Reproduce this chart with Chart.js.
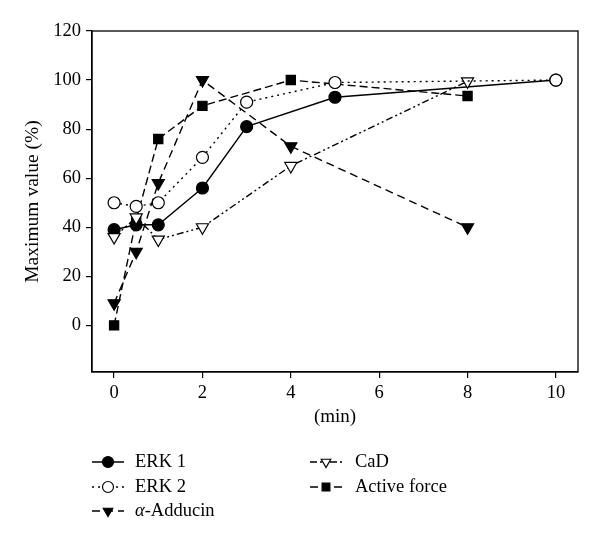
<!DOCTYPE html>
<html>
<head>
<meta charset="utf-8">
<script src="https://cdn.jsdelivr.net/npm/chart.js@4/dist/chart.umd.min.js"></script>
<style>
  html, body { margin: 0; padding: 0; background: #fff; }
  #wrap { width: 600px; height: 543px; }
</style>
</head>
<body>
<div id="wrap"><canvas id="chart"></canvas></div>
<script>
// Data
const timeLong = [0, 0.5, 1, 2, 3, 5, 10];
const timeShort = [0, 0.5, 1, 2, 4, 8];
const erk1 = [39, 41, 41, 56, 81, 93, 100];
const erk2 = [50, 48.5, 50, 68.5, 91, 99, 100];
const adducin = [9, 30, 58, 100, 73, 40];
const cad = [36, 44, 35, 40, 65, 99.5];
const activeForce = [0, 43, 76, 89.5, 100, 93.5];
const xTicks = [0, 2, 4, 6, 8, 10];
const yTicks = [0, 20, 40, 60, 80, 100, 120];

const FONT = "'Liberation Serif', 'DejaVu Serif', serif";

function toPoints(xs, ys) {
  return xs.map((x, i) => ({ x: x, y: ys[i] }));
}

function series(label, xs, ys, opts) {
  return Object.assign({
    label: label,
    data: toPoints(xs, ys),
    borderColor: "#000",
    borderWidth: 1.4,
    pointBorderColor: "#000",
    pointBorderWidth: 1.2,
    pointRadius: 6,
    pointHoverRadius: 6,
    fill: false,
    tension: 0,
  }, opts);
}

const datasets = [
  series("ERK 1", timeLong, erk1, { pointStyle: "circle", pointBackgroundColor: "#000", borderDash: [], order: 3 }),
  series("ERK 2", timeLong, erk2, { pointStyle: "circle", pointBackgroundColor: "#fff", borderDash: [2, 4], order: 1 }),
  series("\u03b1-Adducin", timeShort, adducin, { pointStyle: "triangle", pointRotation: 180, pointBackgroundColor: "#000", borderDash: [8, 5], order: 4, pointRadius: 7 }),
  series("CaD", timeShort, cad, { pointStyle: "triangle", pointRotation: 180, pointBackgroundColor: "#fff", borderDash: [7, 3, 2, 3, 2, 3], order: 2, pointRadius: 7 }),
  series("Active force", timeShort, activeForce, { pointStyle: "rect", pointBackgroundColor: "#000", borderDash: [8, 4], order: 5, pointRadius: 6.5 }),
];

// legend layout: column-major, two columns
const legendCols = [[0, 1, 2], [3, 4]];

const framePlugin = {
  id: "frame",
  afterDraw(chart) {
    const { ctx, chartArea: a } = chart;
    ctx.save();
    ctx.strokeStyle = "#000";
    ctx.lineWidth = 1.3;
    ctx.setLineDash([]);
    ctx.strokeRect(a.left, a.top, a.right - a.left, a.bottom - a.top);
    ctx.restore();
  },
};

const legendPlugin = {
  id: "colLegend",
  afterDraw(chart) {
    const ctx = chart.ctx;
    const colX = [92, 310];
    const rowY = [462, 487, 511];
    ctx.save();
    legendCols.forEach((col, c) => {
      col.forEach((di, r) => {
        const ds = chart.data.datasets[di];
        const x0 = colX[c], y = rowY[r];
        ctx.strokeStyle = "#000";
        ctx.lineWidth = 1.5;
        ctx.setLineDash(ds.borderDash || []);
        ctx.beginPath();
        ctx.moveTo(x0, y);
        ctx.lineTo(x0 + 32, y);
        ctx.stroke();
        ctx.setLineDash([]);
        ctx.fillStyle = ds.pointBackgroundColor;
        ctx.lineWidth = 1.2;
        Chart.helpers.drawPoint(ctx, {
          pointStyle: ds.pointStyle,
          rotation: ds.pointRotation || 0,
          radius: 5.5,
          borderWidth: 1.2,
        }, x0 + 16, y);
        ctx.fillStyle = "#000";
        ctx.textBaseline = "middle";
        ctx.textAlign = "left";
        let tx = x0 + (c === 0 ? 43 : 45);
        let text = ds.label;
        // Greek prefix is set in italic, as in the figure
        if (text.charAt(0) === "\u03b1") {
          ctx.font = "italic 18.5px " + FONT;
          ctx.fillText("\u03b1", tx, y);
          tx += ctx.measureText("\u03b1").width;
          text = text.slice(1);
        }
        ctx.font = "18.5px " + FONT;
        ctx.fillText(text, tx, y);
      });
    });
    ctx.restore();
  },
};

new Chart(document.getElementById("chart"), {
  type: "line",
  data: { datasets: datasets },
  options: {
    responsive: true,
    maintainAspectRatio: false,
    animation: false,
    layout: { padding: { left: 0, right: 22, top: 31, bottom: 111 } },
    plugins: {
      legend: { display: false },
      tooltip: { enabled: false },
    },
    scales: {
      x: {
        type: "linear",
        min: -0.5,
        max: 10.5,
        afterBuildTicks: (s) => { s.ticks = xTicks.map((v) => ({ value: v })); },
        afterFit: (s) => { s.height = 60; },
        grid: { display: true, drawOnChartArea: false, drawTicks: true, tickLength: 6, color: "#000", lineWidth: 1.2 },
        border: { display: true, color: "#000", width: 1.3 },
        ticks: { color: "#000", font: { family: FONT, size: 18.5 }, padding: 4, maxRotation: 0 },
        title: { display: true, text: "(min)", color: "#000", font: { family: FONT, size: 19 }, padding: { top: 0 } },
      },
      y: {
        type: "linear",
        min: -19,
        max: 120,
        afterBuildTicks: (s) => { s.ticks = yTicks.map((v) => ({ value: v })); },
        afterFit: (s) => { s.width = 92; },
        grid: { display: true, drawOnChartArea: false, drawTicks: true, tickLength: 6, color: "#000", lineWidth: 1.2 },
        border: { display: true, color: "#000", width: 1.3 },
        ticks: { color: "#000", font: { family: FONT, size: 18.5 }, padding: 5 },
        title: { display: true, text: "Maximum value (%)", color: "#000", font: { family: FONT, size: 19.5 }, padding: { top: 21, bottom: 6 } },
      },
    },
  },
  plugins: [framePlugin, legendPlugin],
});
</script>
</body>
</html>
